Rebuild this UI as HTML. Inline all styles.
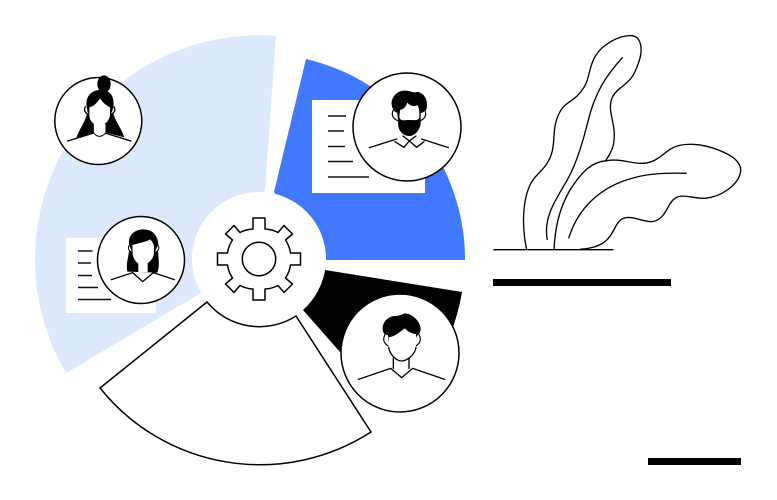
<!DOCTYPE html>
<html><head><meta charset="utf-8"><style>html,body{margin:0;padding:0;background:#fff}svg{display:block}</style></head>
<body>
<svg width="777" height="500" viewBox="0 0 777 500" xmlns="http://www.w3.org/2000/svg">
<rect width="777" height="500" fill="#fff"/>
<path d="M276 36A224 224 0 0 0 66 373L201 293L265 190Z" fill="#dce8fc"/>
<path d="M274 192L306 59A206 206 0 0 1 465 260H325Z" fill="#4079ff"/>
<path d="M325 270L462 292A206 206 0 0 1 450 335L400 353L340 352L303 310Q320 295 325 270Z" fill="#000"/>
<rect x="66" y="238" width="90" height="75" fill="#fff"/>
<rect x="312" y="100" width="113" height="93" fill="#fff"/>
<g stroke="#111" stroke-width="1.400" fill="none">
<path d="M78 251H92.500M78 263H91M78 275.500H92M78 287.500H98M78 299.500H111"/>
<path d="M328 116H346M328 131H344M328 146.500H345M328 161.500H353M328 177H369"/>
</g>
<circle cx="259" cy="259" r="67" fill="#fff"/>
<path d="M207 302L100 388A205 205 0 0 0 371 432L296 316A68 68 0 0 1 207 302Z" fill="#fff" stroke="#000" stroke-width="1.500" stroke-linejoin="miter"/>
<g transform="translate(259 259)" fill="#fff" stroke="#000" stroke-width="1.500" stroke-linejoin="round">
<path d="M-6 -30L-6 -41L6 -41L6 -30A31 31 0 0 1 19 -26.500L25 -33.500L33.500 -25L26.500 -19A31 31 0 0 1 31.500 -6L41.500 -6L41.500 6L31.500 6A31 31 0 0 1 26.500 19L33.500 25L25 33.500L19 26.500A31 31 0 0 1 6 30L6 41L-6 41L-6 30A31 31 0 0 1 -19 26.500L-25 33.500L-33.500 25L-26.500 19A31 31 0 0 1 -31.500 6L-41.500 6L-41.500 -6L-31.500 -6A31 31 0 0 1 -26.500 -19L-33.500 -25L-25 -33.500L-19 -26.500A31 31 0 0 1 -6 -30Z"/>
<circle r="16.700"/>
</g>

<!-- avatar 1 -->
<circle cx="98.300" cy="121" r="43.500" fill="#fff" stroke="#000" stroke-width="1.500"/>
<g transform="translate(30 60) scale(.33333)" stroke-linecap="round">
<ellipse cx="222" cy="72" rx="20" ry="26" fill="#000"/>
<path d="M170 140C165 105 190 90 210 90C240 88 258 110 248 150C252 180 272 200 283 232L225 217L190 220L138 236C150 200 172 180 172 150Z" fill="#000"/>
<path d="M166 140q-8 15 10 24M252 140q8 15-10 24" fill="#fff" stroke="#000" stroke-width="4"/>
<path d="M190 190V218Q208 240 228 218V190Z" fill="#fff" stroke="#000" stroke-width="3"/>
<path d="M178 142C190 140 205 125 210 115C220 130 232 138 240 142V165C238 185 220 197 208 197C195 197 178 185 178 165Z" fill="#fff"/>
<path d="M113 243L188 220M228 220L303 243" stroke="#000" stroke-width="4" fill="none"/>
</g>

<!-- avatar 2 -->
<circle cx="141" cy="260" r="43.500" fill="#fff" stroke="#000" stroke-width="1.500"/>
<g transform="translate(50 200) scale(.33333)" stroke-linecap="round">
<path d="M237 130C235 100 260 88 280 88C310 88 325 110 325 135C322 170 332 190 322 218L232 215C226 180 242 160 237 130Z" fill="#000"/>
<path d="M265 190V216H293V190Z" fill="#fff"/>
<path d="M248 218L278 245L310 218" fill="#fff" stroke="#000" stroke-width="4"/>
<path d="M247 135C265 130 290 125 300 118C308 125 312 135 312 140V160C310 180 290 195 278 195C262 195 248 175 248 160Z" fill="#fff"/>
<path d="M184 239L248 218M310 218L373 239" stroke="#000" stroke-width="4" fill="none"/>
<path d="M238 135q-8 15 8 22M324 135q8 15-10 22" fill="#fff" stroke="#000" stroke-width="3"/>
</g>

<!-- avatar 3 -->
<circle cx="407" cy="127" r="54" fill="#fff" stroke="#000" stroke-width="1.500"/>
<g transform="translate(300 60) scale(.33333)" stroke-linecap="round" stroke-linejoin="round">
<path d="M275 135C272 110 295 90 315 92C330 92 340 100 352 96C372 98 385 120 380 145C375 160 366 155 362 160V190C360 210 345 228 328 228C315 228 300 220 295 200L292 158C285 158 278 150 275 135Z" fill="#000"/>
<path d="M280 150q-10 20 12 32M374 150q10 20-12 32" fill="#fff" stroke="#000" stroke-width="3.500"/>
<path d="M300 150C312 148 318 140 322 128C332 140 345 140 352 135C358 145 358 150 358 170C356 184 345 180 328 180C312 180 300 185 298 170Z" fill="#fff"/>
<path d="M208 263L290 237M365 237L445 263" stroke="#000" stroke-width="4" fill="none"/>
<path d="M285 245L312 262L328 243L350 262L372 245M309 228L328 243L348 228" stroke="#000" stroke-width="4" fill="#fff"/>
</g>

<!-- avatar 4 -->
<circle cx="400" cy="353" r="59" fill="#fff" stroke="#000" stroke-width="1.500"/>
<g transform="translate(290 260) scale(.33333)" stroke-linecap="round" stroke-linejoin="round">
<path d="M278 205C278 185 295 170 312 168C325 168 330 165 345 160C370 162 390 185 392 205C392 225 382 220 378 235V260C380 270 372 275 365 280L305 280C295 265 295 250 294 225C285 225 278 220 278 205Z" fill="#000"/>
<path d="M287 220q-15 25 8 38M385 220q15 25-8 38" fill="#fff" stroke="#000" stroke-width="3.500"/>
<path d="M310 285V325M357 285V325" fill="none" stroke="#000" stroke-width="4"/>
<path d="M296 232C320 228 332 212 345 205C352 215 370 222 378 222V265C375 285 350 303 335 303C315 303 297 280 295 265Z" fill="#fff"/>
<path d="M205 358L302 325L335 353L368 325L464 358" stroke="#000" stroke-width="4" fill="none"/>
<path d="M296 262C300 285 320 303 335 303C350 303 375 285 378 262" stroke="#000" stroke-width="4" fill="none"/>
</g>

<!-- plant -->
<g transform="translate(485 30) scale(.33333)" fill="none" stroke="#000" stroke-width="4">
<path d="M125 658C112 600 110 520 135 465C150 430 185 420 200 370C212 330 200 290 225 245C240 215 270 215 295 175C315 145 310 115 330 80C350 45 400 15 440 17C470 20 475 60 460 100C445 145 430 155 405 175C380 195 372 215 378 250C385 285 392 310 385 345C380 365 370 380 360 395"/>
<path d="M207 658C210 600 220 540 255 480C290 425 320 395 365 392C410 385 430 400 470 400C510 400 530 375 555 358C590 335 650 340 700 360C740 375 770 395 767 425C760 465 710 500 660 505C620 505 590 490 570 505C545 520 545 570 500 575C470 575 440 555 415 565C390 575 390 610 360 635C340 650 310 657 285 658"/>
<path d="M187 630C175 570 205 520 235 470C270 415 290 350 310 270C330 190 360 140 413 82"/>
<path d="M251 625C280 530 350 470 440 445C490 430 550 428 605 430"/>
<path d="M25 659H385"/>
</g>
<rect x="493" y="279" width="178" height="7" fill="#000"/>
<rect x="648" y="458" width="93" height="7" fill="#000"/>
</svg>
</body></html>
